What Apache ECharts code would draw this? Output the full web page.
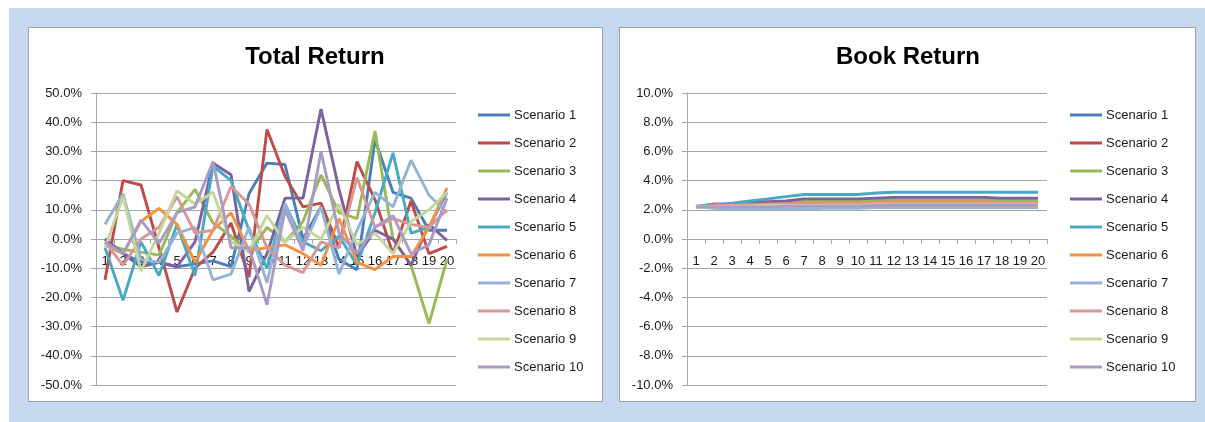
<!DOCTYPE html>
<html>
<head>
<meta charset="utf-8">
<script src="https://cdn.jsdelivr.net/npm/echarts@6/dist/echarts.min.js"></script>
<style>
  html, body { margin: 0; padding: 0; background: #ffffff; }
  #bg { position: absolute; left: 9px; top: 8px; width: 1196px; height: 414px; background: #c6d9f1; }
  .panel { position: absolute; top: 27px; height: 375px; background: #ffffff; border: 1px solid #a0a0a0; box-sizing: border-box; }
  #p1 { left: 28px; width: 575px; }
  #p2 { left: 619px; width: 577px; }
  #chart { position: absolute; left: 0; top: 0; width: 1205px; height: 422px; }
</style>
</head>
<body>
<div id="bg"></div>
<div class="panel" id="p1"></div>
<div class="panel" id="p2"></div>
<div id="chart"></div>
<script>
// ---- data ----
const categories = ['1','2','3','4','5','6','7','8','9','10','11','12','13','14','15','16','17','18','19','20'];
const seriesNames = ['Scenario 1','Scenario 2','Scenario 3','Scenario 4','Scenario 5','Scenario 6','Scenario 7','Scenario 8','Scenario 9','Scenario 10'];
const yTicksTotal = [-50, 50, 10];
const yTicksBook = [-10, 10, 2];

// Total Return (%)
const total1  = [0, -5, -8, -8, -9.5, -8.5, -7.5, -9.5, 15.5, 26, 25.5, 0, 11, -7, -10.5, 34, 16, 14, 3, 3];
const total2  = [-14, 20, 18.5, -3, -25, -10, -4.5, 5.5, -13, 37.5, 21.5, 11, 12.3, -3, 26.5, 13.5, -5, 13, -5, -2.5];
const total3  = [-2, -3.5, -4.5, -5.5, 9, 17, 5.5, 1, -4.5, 4, -1, 6, 22, 9, 7, 37, 0, -9, -29, -7];
const total4  = [0, -5, -9.5, -8, -9.5, -1, 26, 22, -18, -5, 14, 14, 44.5, 17, -6, 3, 0, -9, 5, -0.5];
const total5  = [-3, -21, -1, -12.5, 5, -12.5, 25, 20, 3, -10, 12, -1, -4, 1, -9, 9, 29.5, 2, 4, 16];
const total6  = [-2, -5, 6, 10.5, 5, -8, 3, 9, -4, -3, -2, -5, -9, 7, -8, -10.5, -6, -6, 4, 17.5];
const total7  = [5, 15.5, -7, -8, 2, 4, -14, -12, 4, -15, 12, -3, 11, -12, 3, 16, 11, 27, 15, 9];
const total8  = [-1, -9, 0, 4, 14.5, 2, 3, 18, 12, -3, -9, -11.5, -1, -3, 21, 4, 7, 5, 4, 10];
const total9  = [-3, 14.5, -11, 2, 16.5, 12, 16, -1, -4, 8, -1, 4, 0, 12, -2, 2, -5, 6, 10, 16];
const total10 = [-1, -5, 6.5, -1.5, 9, 11, 26.5, -3, -3, -22.5, 10, -4, 30, 2, -5, 4, 8, -5, -2, 14];

// Book Return (%)
const book1  = [2.2, 2.25, 2.3, 2.35, 2.4, 2.45, 2.5, 2.5, 2.5, 2.5, 2.55, 2.6, 2.6, 2.6, 2.6, 2.6, 2.6, 2.6, 2.6, 2.6];
const book2  = [2.2, 2.4, 2.35, 2.3, 2.25, 2.25, 2.25, 2.3, 2.35, 2.4, 2.45, 2.5, 2.5, 2.5, 2.5, 2.5, 2.5, 2.5, 2.5, 2.5];
const book3  = [2.2, 2.3, 2.35, 2.4, 2.45, 2.5, 2.6, 2.6, 2.6, 2.6, 2.65, 2.7, 2.7, 2.7, 2.7, 2.7, 2.7, 2.65, 2.6, 2.6];
const book4  = [2.2, 2.3, 2.4, 2.5, 2.55, 2.6, 2.75, 2.75, 2.75, 2.75, 2.8, 2.85, 2.85, 2.85, 2.85, 2.85, 2.85, 2.8, 2.8, 2.8];
const book5  = [2.25, 2.35, 2.45, 2.6, 2.75, 2.9, 3.05, 3.05, 3.05, 3.05, 3.15, 3.2, 3.2, 3.2, 3.2, 3.2, 3.2, 3.2, 3.2, 3.2];
const book6  = [2.2, 2.25, 2.3, 2.35, 2.4, 2.4, 2.45, 2.45, 2.45, 2.45, 2.5, 2.55, 2.55, 2.55, 2.55, 2.55, 2.55, 2.5, 2.5, 2.5];
const book7  = [2.2, 2.1, 2.05, 2.05, 2.05, 2.05, 2.05, 2.1, 2.1, 2.1, 2.15, 2.15, 2.15, 2.15, 2.15, 2.15, 2.15, 2.15, 2.15, 2.15];
const book8  = [2.2, 2.3, 2.3, 2.35, 2.35, 2.4, 2.4, 2.4, 2.4, 2.4, 2.45, 2.5, 2.5, 2.5, 2.5, 2.5, 2.5, 2.5, 2.5, 2.5];
const book9  = [2.2, 2.2, 2.25, 2.25, 2.3, 2.3, 2.3, 2.3, 2.3, 2.3, 2.35, 2.35, 2.35, 2.35, 2.35, 2.35, 2.35, 2.35, 2.35, 2.35];
const book10 = [2.2, 2.2, 2.2, 2.2, 2.2, 2.25, 2.25, 2.25, 2.25, 2.25, 2.3, 2.3, 2.3, 2.3, 2.3, 2.3, 2.3, 2.3, 2.3, 2.3];

const colors = ['#4a7ebb','#be4b48','#98b954','#7d60a0','#46aac5','#f59140','#95b3d7','#d99694','#c3d69b','#a99bc5'];

const totalData = [total1,total2,total3,total4,total5,total6,total7,total8,total9,total10];
const bookData = [book1,book2,book3,book4,book5,book6,book7,book8,book9,book10];

const FONT = 'Liberation Sans, Arial, sans-serif';
const gridColor = '#a6a6a6';
const PLOT_H = 292;

function xAxis(gi) {
  return {
    type: 'category', gridIndex: gi, data: categories, boundaryGap: true,
    position: 'bottom', offset: -PLOT_H / 2,
    axisLine: { onZero: false, lineStyle: { color: gridColor, width: 1 } },
    axisTick: { show: true, length: 5, inside: false, alignWithLabel: false, lineStyle: { color: gridColor } },
    axisLabel: { interval: 0, margin: 16, fontSize: 13, color: '#1a1a1a', fontFamily: FONT, hideOverlap: false },
    splitLine: { show: false }
  };
}
function yAxis(gi, t) {
  return {
    type: 'value', gridIndex: gi, min: t[0], max: t[1], interval: t[2],
    axisLine: { show: true, lineStyle: { color: gridColor, width: 1 } },
    axisTick: { show: true, length: 5, lineStyle: { color: gridColor } },
    axisLabel: { margin: 14, fontSize: 13, color: '#1a1a1a', fontFamily: FONT,
      formatter: v => v.toFixed(1) + '%' },
    splitLine: { show: true, lineStyle: { color: gridColor, width: 1 } }
  };
}

const series = [];
totalData.forEach((d, i) => series.push({
  name: seriesNames[i], type: 'line', xAxisIndex: 0, yAxisIndex: 0, data: d,
  symbol: 'none', lineStyle: { width: 2.9, color: colors[i] }, itemStyle: { color: colors[i] },
  animation: false
}));
bookData.forEach((d, i) => series.push({
  name: seriesNames[i], type: 'line', xAxisIndex: 1, yAxisIndex: 1, data: d,
  symbol: 'none', lineStyle: { width: 2.9, color: colors[i] }, itemStyle: { color: colors[i] },
  animation: false
}));

function legend(left) {
  return {
    data: seriesNames, orient: 'vertical', left: left, top: 108, padding: 0,
    icon: 'path://M0,0L32,0L32,3L0,3Z',
    itemWidth: 32, itemHeight: 3.5, itemGap: 14,
    textStyle: { fontSize: 13, lineHeight: 14, color: '#1a1a1a', fontFamily: FONT, padding: [0, 0, 0, -1] },
    selectedMode: false
  };
}

const chart = echarts.init(document.getElementById('chart'), null, { renderer: 'canvas' });
chart.setOption({
  backgroundColor: 'transparent',
  animation: false,
  color: colors,
  grid: [
    { left: 96, top: 93, width: 360, height: PLOT_H, containLabel: false },
    { left: 687, top: 93, width: 360, height: PLOT_H, containLabel: false }
  ],
  xAxis: [xAxis(0), xAxis(1)],
  yAxis: [yAxis(0, yTicksTotal), yAxis(1, yTicksBook)],
  legend: [legend(478), legend(1070)],
  graphic: [
    { type: 'text', x: 315, y: 57, style: { text: 'Total Return', fontSize: 24, fontWeight: 'bold', fontFamily: FONT, fill: '#000', textAlign: 'center', textVerticalAlign: 'middle' } },
    { type: 'text', x: 908, y: 57, style: { text: 'Book Return', fontSize: 24, fontWeight: 'bold', fontFamily: FONT, fill: '#000', textAlign: 'center', textVerticalAlign: 'middle' } }
  ],
  series: series
});
</script>
</body>
</html>
